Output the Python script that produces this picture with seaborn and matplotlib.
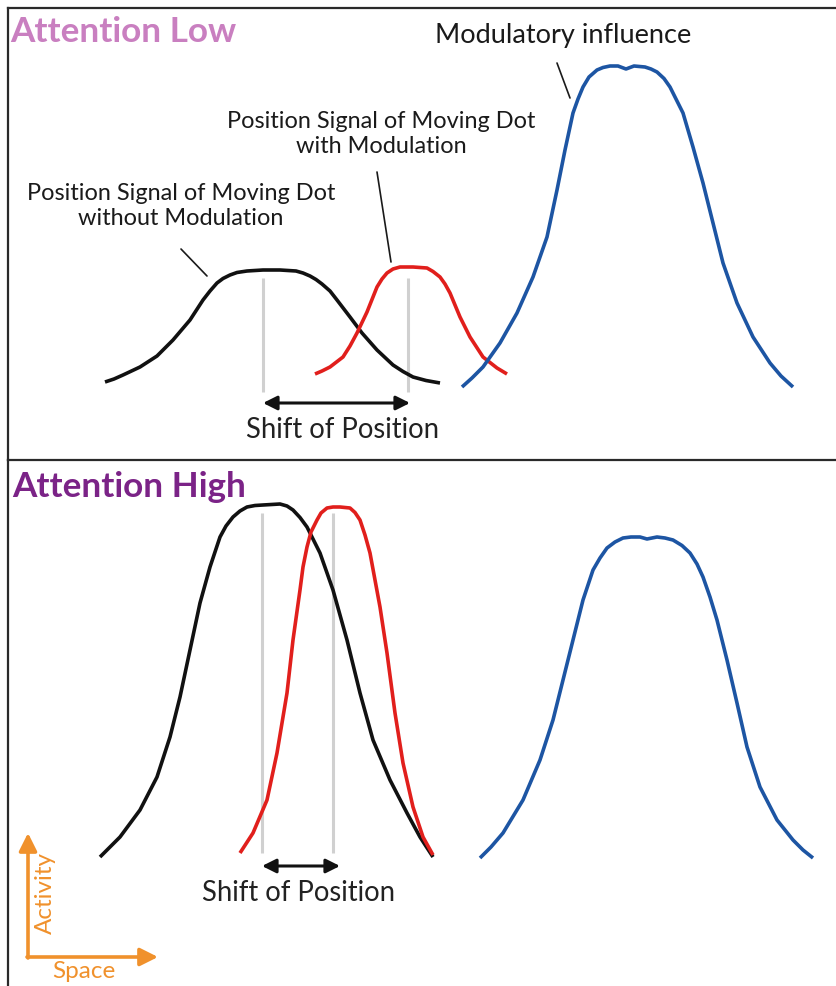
import numpy as np
import matplotlib
matplotlib.use("Agg")
import matplotlib.pyplot as plt
import seaborn as sns

# Values (space = horizontal position, activity = height above panel floor)
top_black_space = [105, 114, 123, 140, 157, 173, 190, 203, 210, 217, 223, 230, 237, 247, 263, 280, 296, 303, 310, 316, 322, 330, 337, 350, 362, 377, 393, 403, 413, 426, 440]
top_black_act = [78, 81, 85, 93, 104, 120, 140, 160, 169, 177, 181.5, 185, 187.5, 189, 190, 190, 189, 187, 184, 180.5, 176, 169, 160, 143, 127, 110, 95, 88.5, 83, 79.5, 77]

top_red_space = [315, 322, 330, 343, 350, 357, 367, 377, 382, 387, 393, 400, 413, 427, 433, 440, 445, 450, 460, 470, 483, 497, 507]
top_red_act = [86, 89, 93, 103, 114, 127, 148, 173, 181, 187, 191, 193, 193, 192, 188.5, 183, 176, 167, 143, 123, 103, 92, 86]

top_blue_space = [462, 472, 483, 500, 517, 533, 547, 557, 565, 573, 578, 583, 589, 597, 603, 610, 618, 626, 634, 645, 651, 657, 664, 670, 676, 683, 693, 703, 713, 723, 737, 753, 770, 781, 793]
top_blue_act = [73, 82, 93, 117, 147, 183, 223, 270, 310, 347, 361, 373, 383, 390, 392.5, 394, 394, 391, 394, 393, 391, 388, 381.5, 373, 361, 347, 313, 277, 237, 197, 157, 123, 97, 84, 73]

bot_black_space = [100, 110, 120, 140, 157, 170, 180, 190, 200, 210, 220, 226, 233, 240, 247, 255, 263, 280, 287, 293, 300, 307, 313, 320, 333, 347, 360, 373, 390, 407, 420, 433]
bot_black_act = [129, 139, 149, 176, 209, 249, 289, 336, 383, 419, 449, 460, 469, 475, 479, 480.5, 481, 482, 480, 476, 468.5, 459, 447, 433, 396, 346, 293, 246, 206, 173, 149, 129]

bot_red_space = [240, 253, 267, 277, 287, 293, 300, 303, 307, 311, 317, 321, 327, 333, 340, 350, 355, 360, 365, 370, 380, 387, 395, 403, 413, 423, 433]
bot_red_act = [133, 153, 186, 233, 293, 346, 396, 419, 439, 454, 466, 473, 478, 479, 479, 478, 473.5, 466, 451, 433, 379, 333, 273, 223, 179, 149, 131]

bot_blue_space = [480, 491, 503, 523, 540, 553, 563, 573, 583, 593, 600, 607, 615, 623, 631, 640, 647, 657, 665, 673, 682, 690, 697, 703, 710, 717, 727, 737, 747, 760, 777, 793, 803, 813]
bot_blue_act = [128, 139, 153, 186, 226, 266, 306, 346, 386, 416, 428, 438, 444, 448, 449, 449, 447, 449, 448, 446, 440.5, 433, 422, 409, 389, 366, 326, 283, 239, 199, 166, 146, 136, 128]

# perceived positions (peak markers) and shift arrows
top_positions = [263, 408]
bot_positions = [262, 333]

sns.set_theme(style="white")
plt.rcParams["font.family"] = ["Lato", "DejaVu Sans"]

W, H = 837, 986
fig = plt.figure(figsize=(W / 100, H / 100), dpi=100)
fig.patch.set_facecolor("white")

# top panel spans pixel rows 8..460, bottom 460..986
ax_top = fig.add_axes([8 / W, 1 - 460 / H, 1 - 8 / W, 452 / H])
ax_bot = fig.add_axes([8 / W, 0, 1 - 8 / W, 1 - 460 / H])
ax_top.set_xlim(8, W)
ax_top.set_ylim(0, 452)
ax_bot.set_xlim(8, W)
ax_bot.set_ylim(0, 526)

for ax in (ax_top, ax_bot):
    ax.set_xticks([])
    ax.set_yticks([])
    for s in ax.spines.values():
        s.set_color("#2a2a2a")
        s.set_linewidth(1.6)
    ax.spines["right"].set_visible(False)
    ax.spines["bottom"].set_visible(False)

black = "#111111"
red = "#e11f1c"
blue = "#1d55a3"
grey = "#d0d0d0"
lw = 2.6

# grey position markers first (behind curves)
ax_top.vlines(top_positions, 68, 182, color=grey, linewidth=2.2, zorder=1)
ax_bot.vlines(bot_positions, 133, 473, color=grey, linewidth=2.2, zorder=1)

curves = [
    (ax_top, top_black_space, top_black_act, black),
    (ax_top, top_red_space, top_red_act, red),
    (ax_top, top_blue_space, top_blue_act, blue),
    (ax_bot, bot_black_space, bot_black_act, black),
    (ax_bot, bot_red_space, bot_red_act, red),
    (ax_bot, bot_blue_space, bot_blue_act, blue),
]
for ax, xs, ys, c in curves:
    sns.lineplot(x=xs, y=ys, ax=ax, color=c, linewidth=lw, estimator=None, sort=False,
                 solid_joinstyle="round", solid_capstyle="butt")

for ax in (ax_top, ax_bot):
    ax.set_xlabel("")
    ax.set_ylabel("")

# shift arrows
arrow_kw = dict(arrowstyle="<|-|>,head_length=0.7,head_width=0.35", color=black, lw=2.2, shrinkA=0, shrinkB=0)
ax_top.annotate("", xy=(top_positions[0], 57), xytext=(top_positions[1] + 2, 57), arrowprops=arrow_kw)
ax_bot.annotate("", xy=(bot_positions[0], 120), xytext=(bot_positions[1] + 7, 120), arrowprops=arrow_kw)
ax_top.text(343, 30, "Shift of Position", ha="center", va="center", fontsize=19.8, color="#222222")
ax_bot.text(299, 93, "Shift of Position", ha="center", va="center", fontsize=19.8, color="#222222")

# titles
ax_top.text(10, 428, "Attention Low", ha="left", va="center", fontsize=25.3, fontweight="bold", color="#c97fc0")
ax_bot.text(12, 499, "Attention High", ha="left", va="center", fontsize=25.3, fontweight="bold", color="#7b2387")

# labels and leader lines
lab = dict(ha="center", va="center", fontsize=16.9, color="#1a1a1a", linespacing=1.2)
ax_top.text(563, 425, "Modulatory influence", ha="center", va="center", fontsize=19.5, color="#1a1a1a")
ax_top.text(381, 326, "Position Signal of Moving Dot\nwith Modulation", **lab)
ax_top.text(181, 254, "Position Signal of Moving Dot\nwithout Modulation", **lab)
ax_top.plot([557, 570], [397, 362], color="#1a1a1a", lw=1.2)
ax_top.plot([377, 391], [288, 198], color="#1a1a1a", lw=1.2)
ax_top.plot([181, 207], [211, 184], color="#1a1a1a", lw=1.2)

# orange axis key
orange = "#f0912c"
okw = dict(arrowstyle="-|>,head_length=0.9,head_width=0.45", color=orange, lw=2.6, shrinkA=0, shrinkB=0)
ax_bot.annotate("", xy=(28, 153), xytext=(28, 28), arrowprops=okw)
ax_bot.annotate("", xy=(158, 29), xytext=(27, 29), arrowprops=okw)
ax_bot.text(45, 93, "Activity", rotation=90, ha="center", va="center", fontsize=17.5, color=orange)
ax_bot.text(84, 14, "Space", ha="center", va="center", fontsize=17.5, color=orange)

fig.savefig("out.png", dpi=100, facecolor="white")
